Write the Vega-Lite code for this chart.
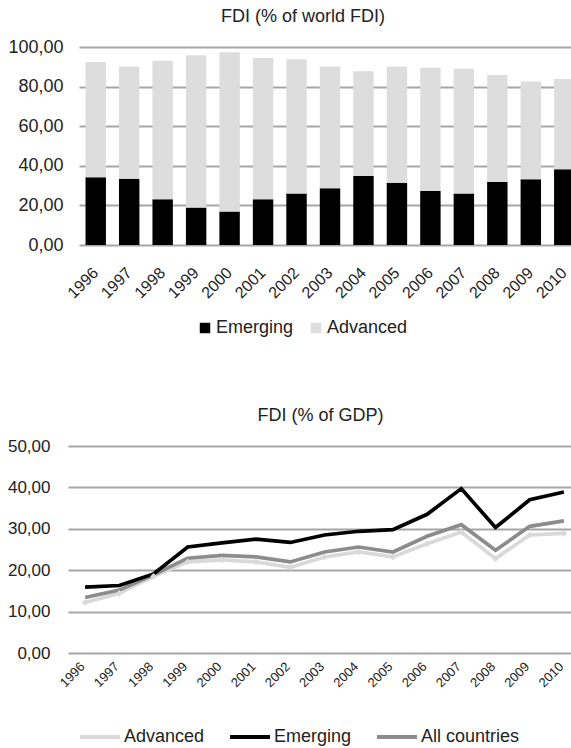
{
  "$schema": "https://vega.github.io/schema/vega-lite/v6.json",
  "background": "white",
  "padding": {"left": 6, "top": 8, "right": 0, "bottom": 0},
  "columns": 2,
  "align": "none",
  "bounds": "full",
  "spacing": {"row": 70, "column": 0},
  "resolve": {"scale": {"color": "independent", "x": "independent", "y": "independent"}, "legend": {"color": "independent"}},
  "config": {
    "font": "Liberation Sans",
    "view": {"stroke": null},
    "title": {"fontSize": 18, "fontWeight": "normal", "color": "#222222", "offset": 12},
    "axis": {"labelColor": "#222222", "gridColor": "#a6a6a6", "gridWidth": 2, "domain": false, "ticks": false, "title": null},
    "legend": {"labelColor": "#222222", "labelFontSize": 18, "title": null, "direction": "horizontal"}
  },
  "concat": [
    {
      "width": 1, "height": 1,
      "data": {"values": [{"note": "spacer"}]},
      "mark": {"type": "point", "opacity": 0, "size": 0, "strokeWidth": 0},
      "encoding": {}
    },
    {
      "width": 502,
      "height": 198,
      "title": {"text": "FDI (% of world FDI)", "dx": -27},
      "data": {"values": [
        {"year": "1996", "series": "Emerging", "value": 34.2}, {"year": "1996", "series": "Advanced", "value": 58.2},
        {"year": "1997", "series": "Emerging", "value": 33.4}, {"year": "1997", "series": "Advanced", "value": 56.8},
        {"year": "1998", "series": "Emerging", "value": 23.1}, {"year": "1998", "series": "Advanced", "value": 70.0},
        {"year": "1999", "series": "Emerging", "value": 18.9}, {"year": "1999", "series": "Advanced", "value": 76.9},
        {"year": "2000", "series": "Emerging", "value": 16.9}, {"year": "2000", "series": "Advanced", "value": 80.4},
        {"year": "2001", "series": "Emerging", "value": 23.1}, {"year": "2001", "series": "Advanced", "value": 71.3},
        {"year": "2002", "series": "Emerging", "value": 26.0}, {"year": "2002", "series": "Advanced", "value": 67.8},
        {"year": "2003", "series": "Emerging", "value": 28.7}, {"year": "2003", "series": "Advanced", "value": 61.5},
        {"year": "2004", "series": "Emerging", "value": 34.9}, {"year": "2004", "series": "Advanced", "value": 52.8},
        {"year": "2005", "series": "Emerging", "value": 31.5}, {"year": "2005", "series": "Advanced", "value": 58.7},
        {"year": "2006", "series": "Emerging", "value": 27.3}, {"year": "2006", "series": "Advanced", "value": 62.2},
        {"year": "2007", "series": "Emerging", "value": 26.0}, {"year": "2007", "series": "Advanced", "value": 63.0},
        {"year": "2008", "series": "Emerging", "value": 31.8}, {"year": "2008", "series": "Advanced", "value": 54.1},
        {"year": "2009", "series": "Emerging", "value": 33.2}, {"year": "2009", "series": "Advanced", "value": 49.4},
        {"year": "2010", "series": "Emerging", "value": 38.2}, {"year": "2010", "series": "Advanced", "value": 45.6}
      ]},
      "mark": {"type": "bar"},
      "encoding": {
        "x": {"field": "year", "type": "ordinal", "scale": {"paddingInner": 0.39, "paddingOuter": 0.195},
              "axis": {"labelAngle": -45, "labelFontSize": 16, "labelPadding": 25, "labelAlign": "right", "labelBaseline": "middle"}},
        "y": {"field": "value", "type": "quantitative", "stack": "zero", "scale": {"domain": [0, 100]},
              "axis": {"values": [0, 20, 40, 60, 80, 100], "labelFontSize": 18, "labelPadding": 16,
                       "labelExpr": "replace(format(datum.value, '.2f'), '.', ',')"}},
        "color": {"field": "series", "type": "nominal",
                  "scale": {"domain": ["Emerging", "Advanced"], "range": ["#000000", "#dddddd"]},
                  "legend": {"orient": "none", "legendX": 117, "legendY": 272, "symbolType": "square", "symbolSize": 110, "labelOffset": 2, "columnPadding": 13}},
        "order": {"field": "series", "sort": "descending"}
      }
    },
    {
      "width": 1, "height": 1,
      "data": {"values": [{"note": "spacer"}]},
      "mark": {"type": "point", "opacity": 0, "size": 0, "strokeWidth": 0},
      "encoding": {}
    },
    {
      "width": 513,
      "height": 207,
      "title": {"text": "FDI (% of GDP)", "dx": -4},
      "data": {"values": [
        {"year": "1996", "series": "Advanced", "value": 12.2}, {"year": "1997", "series": "Advanced", "value": 14.4},
        {"year": "1998", "series": "Advanced", "value": 18.5}, {"year": "1999", "series": "Advanced", "value": 22.0},
        {"year": "2000", "series": "Advanced", "value": 22.5}, {"year": "2001", "series": "Advanced", "value": 22.0},
        {"year": "2002", "series": "Advanced", "value": 20.7}, {"year": "2003", "series": "Advanced", "value": 23.2},
        {"year": "2004", "series": "Advanced", "value": 24.4}, {"year": "2005", "series": "Advanced", "value": 23.2},
        {"year": "2006", "series": "Advanced", "value": 26.4}, {"year": "2007", "series": "Advanced", "value": 29.2},
        {"year": "2008", "series": "Advanced", "value": 22.8}, {"year": "2009", "series": "Advanced", "value": 28.5},
        {"year": "2010", "series": "Advanced", "value": 28.9},
        {"year": "1996", "series": "All countries", "value": 13.4}, {"year": "1997", "series": "All countries", "value": 15.2},
        {"year": "1998", "series": "All countries", "value": 18.9}, {"year": "1999", "series": "All countries", "value": 22.9},
        {"year": "2000", "series": "All countries", "value": 23.6}, {"year": "2001", "series": "All countries", "value": 23.2},
        {"year": "2002", "series": "All countries", "value": 22.0}, {"year": "2003", "series": "All countries", "value": 24.4},
        {"year": "2004", "series": "All countries", "value": 25.6}, {"year": "2005", "series": "All countries", "value": 24.4},
        {"year": "2006", "series": "All countries", "value": 28.2}, {"year": "2007", "series": "All countries", "value": 31.0},
        {"year": "2008", "series": "All countries", "value": 24.8}, {"year": "2009", "series": "All countries", "value": 30.6},
        {"year": "2010", "series": "All countries", "value": 31.9},
        {"year": "1996", "series": "Emerging", "value": 15.9}, {"year": "1997", "series": "Emerging", "value": 16.3},
        {"year": "1998", "series": "Emerging", "value": 19.1}, {"year": "1999", "series": "Emerging", "value": 25.6},
        {"year": "2000", "series": "Emerging", "value": 26.6}, {"year": "2001", "series": "Emerging", "value": 27.5},
        {"year": "2002", "series": "Emerging", "value": 26.7}, {"year": "2003", "series": "Emerging", "value": 28.5},
        {"year": "2004", "series": "Emerging", "value": 29.4}, {"year": "2005", "series": "Emerging", "value": 29.8},
        {"year": "2006", "series": "Emerging", "value": 33.5}, {"year": "2007", "series": "Emerging", "value": 39.7},
        {"year": "2008", "series": "Emerging", "value": 30.3}, {"year": "2009", "series": "Emerging", "value": 37.0},
        {"year": "2010", "series": "Emerging", "value": 38.9}
      ]},
      "encoding": {
        "x": {"field": "year", "type": "ordinal", "scale": {"type": "point", "padding": 0.5},
              "axis": {"labelAngle": -45, "labelFontSize": 13, "labelPadding": 14, "labelAlign": "right", "labelBaseline": "alphabetic"}},
        "y": {"field": "value", "type": "quantitative", "scale": {"domain": [0, 50]},
              "axis": {"values": [0, 10, 20, 30, 40, 50], "labelFontSize": 17, "labelPadding": 18,
                       "labelExpr": "replace(format(datum.value, '.2f'), '.', ',')"}}
      },
      "layer": [
        {
          "mark": {"type": "line", "strokeWidth": 3.7},
          "encoding": {
            "color": {"field": "series", "type": "nominal",
                      "scale": {"domain": ["Advanced", "Emerging", "All countries"], "range": ["#d9d9d9", "#000000", "#8c8c8c"]},
                      "legend": {"orient": "none", "legendX": 10, "legendY": 269, "symbolType": "stroke", "symbolSize": 1600, "symbolStrokeWidth": 4, "labelOffset": 2, "columnPadding": 17}}
          }
        },
        {
          "transform": [{"filter": "datum.series == 'Advanced'"}],
          "mark": {"type": "point", "shape": "diamond", "filled": true, "size": 45, "color": "#d9d9d9", "opacity": 1},
          "encoding": {}
        }
      ]
    }
  ]
}
